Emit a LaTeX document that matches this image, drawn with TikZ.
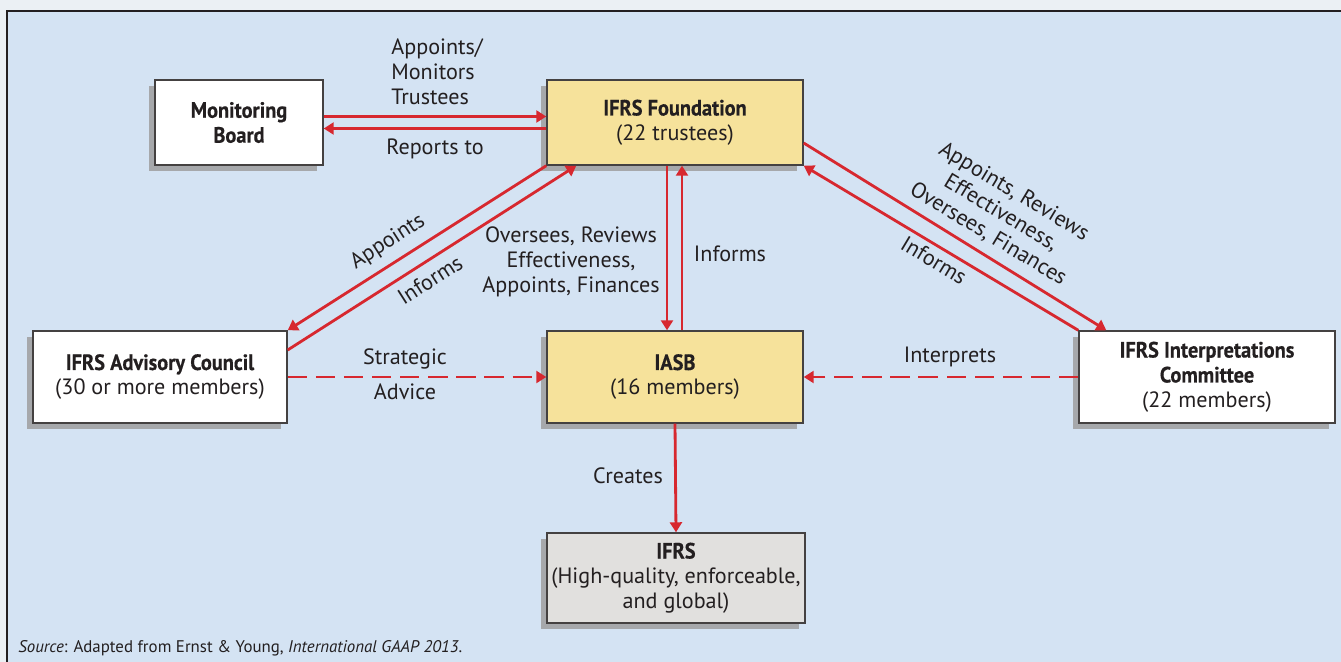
\documentclass[tikz,border=0pt]{standalone}
\usepackage{fontspec}
\setmainfont{PT Sans}[BoldFeatures={FakeStretch=0.92, FakeBold=0.4}]
\usepackage{tikz}
\usetikzlibrary{arrows, arrows.meta}
\usetikzlibrary{shapes}
\usetikzlibrary{shadows}
\usetikzlibrary{calc}
\definecolor{outergrey}{HTML}{EBF0F4}
\definecolor{panelblue}{HTML}{D4E3F3}
\definecolor{fndyellow}{HTML}{F6E29B}
\definecolor{ifrsgrey}{HTML}{E1E0DE}
\definecolor{shadowgrey}{HTML}{A6A8AB}
\definecolor{linkred}{HTML}{D7282F}
\definecolor{inkdark}{HTML}{231F20}
\tikzset{orgbox/.style={draw=inkdark!85, line width=0.8pt, fill=white, align=center, inner sep=0pt,
    text=inkdark, font=\fontsize{12.6}{14.2}\selectfont,
    drop shadow={shadow xshift=-0.12cm, shadow yshift=-0.12cm, fill=shadowgrey, opacity=1}}}
\tikzset{lbl/.style={text=inkdark, align=center, inner sep=0pt, font=\fontsize{12.6}{14.2}\selectfont}}

\begin{document}
\begin{tikzpicture}[x=0.02cm, y=-0.02cm, >={Triangle[length=5.7pt,width=6.8pt]},
    link/.style={draw=linkred, line width=1.6pt, ->},
    advice/.style={link, dash pattern=on 11pt off 5pt}]
\useasboundingbox (0,0) rectangle (1341,662);
\fill[outergrey] (0,0) rectangle (1341,662);
\fill[panelblue] (7,11) rectangle (1341,662);
\draw[inkdark, line width=1pt] (7,662) -- (7,11) -- (1341,11);
% boxes
\node[orgbox, minimum width=168*0.02cm, minimum height=85*0.02cm] (mb) at (239,122.5) {\textbf{Monitoring}\\\textbf{Board}};
\node[orgbox, fill=fndyellow, minimum width=256*0.02cm, minimum height=85*0.02cm] (fd) at (675,122.5) {\textbf{IFRS Foundation}\\(22 trustees)};
\node[orgbox, minimum width=254*0.02cm, minimum height=92*0.02cm] (ac) at (160,377) {\textbf{IFRS Advisory Council}\\(30 or more members)};
\node[orgbox, fill=fndyellow, minimum width=256*0.02cm, minimum height=92*0.02cm] (ia) at (675,377) {\textbf{IASB}\\(16 members)};
\node[orgbox, minimum width=256*0.02cm, minimum height=92*0.02cm] (ic) at (1207,377) {\textbf{IFRS Interpretations}\\\textbf{Committee}\\(22 members)};
\node[orgbox, fill=ifrsgrey, minimum width=258*0.02cm, minimum height=90*0.02cm] (ifrs) at (676,578) {\textbf{IFRS}\\(High-quality, enforceable,\\and global)};
% connectors
\draw[link] ($(mb.east)+(0,-6)$) -- ($(fd.west)+(0,-6)$);
\draw[link] ($(fd.west)+(0,6)$) -- ($(mb.east)+(0,6)$);
\draw[link] (fd.south west) -- (ac.north east);
\draw[link] ($(ac.east)+(0,-27)$) -- ($(fd.south west)+(30,0)$);
\draw[link] ($(fd.south)+(-8,0)$) -- ($(ia.north)+(-8,0)$);
\draw[link] ($(ia.north)+(7,0)$) -- ($(fd.south)+(7,0)$);
\draw[link] ($(fd.east)+(0,20.5)$) -- ($(ic.north west)+(28,0)$);
\draw[link] (ic.north west) -- (fd.south east);
\draw[advice] (ac.east) -- (ia.west);
\draw[advice] (ic.west) -- (ia.east);
\draw[link] (ia.south) -- (ifrs.north);
% labels
\node[lbl, align=left, anchor=west] (amt) at (391,72) {Appoints/\\Monitors\\Trustees};
\node[lbl] (rep) at (435,149) {Reports to};
\node[lbl] (ovr) at (571,262) {Oversees, Reviews\\Effectiveness,\\Appoints, Finances};
\node[lbl] (infm) at (730,254) {Informs};
\node[lbl, rotate=32.6] (appl) at (388,242) {Appoints};
\node[lbl, rotate=32.6] (infl) at (430,280) {Informs};
\node[lbl] (strat) at (405,359) {Strategic};
\node[lbl] (adv) at (405,392) {Advice};
\node[lbl] (intp) at (950,357) {Interprets};
\node[lbl] (crt) at (628,476) {Creates};
\node[lbl, rotate=-31] (appr) at (1001,213) {Appoints, Reviews\\Effectiveness,\\Oversees, Finances};
\node[lbl, rotate=-31] (infr) at (934,260) {Informs};
\node[lbl, anchor=west, font=\fontsize{9.6}{11}\selectfont] (src) at (18,648) {\textit{Source}: Adapted from Ernst \& Young, \textit{International GAAP 2013}.};
\end{tikzpicture}
\end{document}
